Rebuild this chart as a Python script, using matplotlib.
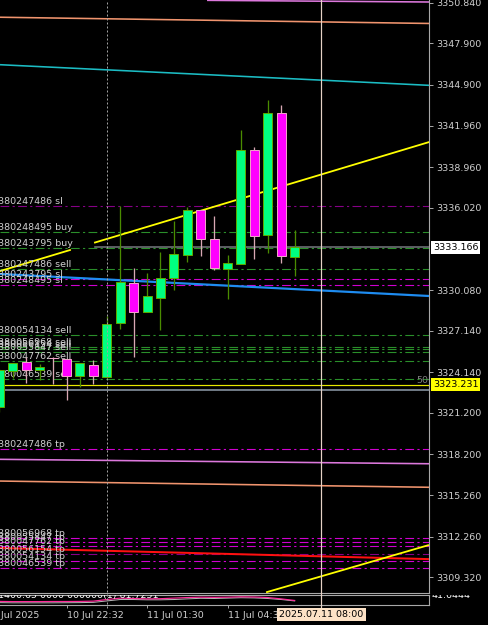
import matplotlib
matplotlib.use('Agg')
import matplotlib.pyplot as plt
from matplotlib.lines import Line2D
from matplotlib.transforms import blended_transform_factory as btf

plt.rcParams['font.family'] = ['DejaVu Sans']
plt.rcParams['font.size'] = 6.8

# ---------------- data ----------------
bar_idx = list(range(23))
opens  = [3321.62, 3324.23, 3324.88, 3324.29, 3325.19, 3325.13, 3323.85, 3324.65,
          3323.80, 3327.68, 3330.56, 3328.47, 3329.50, 3330.92, 3332.60, 3335.83,
          3333.79, 3331.62, 3331.93, 3340.21, 3334.08, 3342.85, 3332.49]
highs  = [3324.40, 3324.81, 3325.24, 3324.72, 3325.24, 3325.13, 3324.81, 3325.06,
          3328.18, 3336.14, 3331.64, 3331.31, 3332.80, 3335.04, 3336.07, 3335.83,
          3335.45, 3332.58, 3341.67, 3340.40, 3343.84, 3343.43, 3334.39]
lows   = [3321.30, 3323.71, 3323.37, 3323.56, 3323.27, 3322.12, 3323.08, 3323.27,
          3323.70, 3327.27, 3325.22, 3328.47, 3327.17, 3330.06, 3332.10, 3332.53,
          3331.50, 3329.46, 3331.93, 3332.29, 3332.78, 3332.03, 3331.09]
closes = [3324.29, 3324.81, 3324.29, 3324.52, 3325.15, 3323.85, 3324.81, 3323.85,
          3327.60, 3330.63, 3328.47, 3329.62, 3330.94, 3332.65, 3335.85, 3333.76,
          3331.64, 3332.03, 3340.21, 3334.00, 3342.88, 3332.56, 3333.166]

price_ticks = [3350.840, 3347.900, 3344.900, 3341.960, 3338.960, 3336.020, 3330.080,
               3327.140, 3324.140, 3321.200, 3318.200, 3315.260, 3312.260, 3309.320]

time_ticks = [-1, 5, 11, 17]
time_labels = ['10 Jul 2025', '10 Jul 22:32', '11 Jul 01:30', '11 Jul 04:30']
cursor_bar = 24
cursor_label = '2025.07.11 08:00'
separator_bar = 8

bid_price = 3333.166
yellow_level = 3323.231
yellow_level_text = '50'
gray_level = 3322.86

order_labels = ['380247486 sl', '380248495 buy', '380243795 buy', '380247486 sell',
                '380243795 sl', '380248495 sl', '380054134 sell', '380056968 sell',
                '380056154 sell', '380055847 sell', '380047762 sell', '380046539 sell',
                '380247486 tp', '380056968 tp', '380055847 tp', '380047762 tp',
                '380056154 tp', '380054134 tp', '380046539 tp']
order_prices = [3336.17, 3334.25, 3333.09, 3331.62, 3330.85, 3330.42, 3326.83, 3325.94,
                3325.80, 3325.62, 3324.95, 3323.67, 3318.57, 3312.18, 3311.91, 3311.58,
                3310.98, 3310.52, 3309.97]

# channel / trend lines: (start bar, start price, end bar, end price)
orchid_top   = (15.47, 3351.01, 32.01, 3350.89)
salmon_top   = (0.045, 3349.79, 32.01, 3349.34)
cyan_line    = (0.045, 3346.36, 32.01, 3344.87)
blue_line    = (0.045, 3331.24, 32.01, 3329.65)
orchid_mid   = (0.045, 3317.85, 32.01, 3317.53)
salmon_mid   = (0.045, 3316.28, 32.01, 3315.83)
red_line     = (0.045, 3311.44, 32.01, 3310.64)
yellow_up    = (0.045, 3331.45, 32.01, 3340.77)
yellow_gap   = (5.26, 7.12)
yellow_low   = (19.87, 3308.24, 32.01, 3311.66)

# indicator sub-window
ind_pink = [35, 33, 33, 33, 34, 34, 35, 38, 55, 70, 66, 62, 64, 70, 76, 80, 78, 80, 84, 82, 76, 62, 45]
ind_gray = [22, 20, 20, 20, 20, 21, 22, 25, 40, 55, 55, 52, 52, 55, 62, 68, 66, 70, 74, 72, 66, 55, 40]
ind_text = '1400.65 0000 000000(1) 61.7251'
ind_right = '41.6444'

# ---------------- layout ----------------
W, H = 489, 625
fig = plt.figure(figsize=(W / 100, H / 100), dpi=100, facecolor='black')
plot_r = 429
main_bot = 593.3
ax = fig.add_axes([0, (H - main_bot) / H, plot_r / W, main_bot / H])
ax.set_facecolor('black')
ax.set_xlim(0.0447, 32.01)
ax.set_ylim(3308.17, 3351.035)

ind_top, ind_bot = 595.3, 604.7
ax2 = fig.add_axes([0, (H - ind_bot) / H, plot_r / W, (ind_bot - ind_top) / H])
ax2.set_facecolor('black')
ax2.set_xlim(0.0447, 32.01)
ax2.set_ylim(0, 100)

frame = '#a8a8a8'
for a in (ax, ax2):
    for s in ('left', 'top'):
        a.spines[s].set_visible(False)
    for s in ('right', 'bottom'):
        a.spines[s].set_color(frame)
        a.spines[s].set_linewidth(0.8)
ax2.spines['top'].set_visible(True)
ax2.spines['top'].set_color(frame)
ax2.spines['top'].set_linewidth(0.8)

ax.set_xticks([])
ax.yaxis.tick_right()
ax.set_yticks(price_ticks)
ax.set_yticklabels([f'{v:.3f}' for v in price_ticks])
ax.tick_params(axis='y', colors=frame, labelcolor='#d0d0d0', length=3, width=0.7,
               pad=2.5, labelsize=6.8)
ax2.set_yticks([])
ax2.set_xticks(time_ticks[1:])
ax2.set_xticklabels([])
ax2.tick_params(axis='x', colors=frame, length=2.5, width=0.7)

px = 0.72  # one pixel in points

# ---------------- horizontal order lines ----------------
green_c = '#2a8f2a'
mag_c = '#d000d0'
dark_c = '#860086'
dashpat = (0, (8, 3, 2, 3))
for k, (lab, pr) in enumerate(zip(order_labels, order_prices)):
    if lab.endswith('buy') or lab.endswith('sell'):
        c = green_c
    elif k in (0, 16):
        c = dark_c
    else:
        c = mag_c
    ax.axhline(pr, color=c, lw=px * 1.1, linestyle=dashpat, zorder=2)
    ax.text(-0.12, pr, lab, color='#d0d0d0', ha='left', va='bottom',
            fontsize=6.8, zorder=6, clip_on=False)

# ---------------- channel lines ----------------
def seg(line, color, lw, z=3):
    ax.plot([line[0], line[2]], [line[1], line[3]], color=color, lw=lw * px,
            solid_capstyle='butt', zorder=z)

seg(orchid_top, '#dc78dc', 1.6)
seg(salmon_top, '#f0946e', 1.6)
seg(cyan_line, '#1cbcc4', 1.6)
seg(blue_line, '#1e8cf0', 2.2)
seg(orchid_mid, '#dc78dc', 1.6)
seg(salmon_mid, '#f0946e', 1.6)
seg(red_line, '#ff1010', 2.0)
seg(yellow_low, '#ffff00', 1.8)

# upper yellow trend line drawn in two parts (gap)
def yval(line, x):
    return line[1] + (line[3] - line[1]) * (x - line[0]) / (line[2] - line[0])

for xa, xb in ((yellow_up[0], yellow_gap[0]), (yellow_gap[1], yellow_up[2])):
    ax.plot([xa, xb], [yval(yellow_up, xa), yval(yellow_up, xb)], color='#ffff00',
            lw=1.8 * px, zorder=4)

# level lines
ax.plot([yellow_gap[1], 32.01], [bid_price, bid_price], color='#707478', lw=1.6 * px, zorder=2.5)
ax.axhline(yellow_level, color='#e8e800', lw=1.2 * px, zorder=2.5)
ax.axhline(gray_level, color='#8a96a4', lw=1.6 * px, zorder=2.5)
ax.text(31.94, yellow_level, yellow_level_text, color='#808080', ha='right',
        va='bottom', fontsize=6.8, zorder=6)

# ---------------- candles ----------------
bw = 0.67
for i, o, h, l, c in zip(bar_idx, opens, highs, lows, closes):
    bull = c >= o
    wick_c = '#4a8c00' if bull else '#d8a8b4'
    body_c = '#00ff80' if bull else '#ff00ff'
    edge_c = '#5aa800' if bull else '#f0a0c8'
    ax.vlines(i, l, h, color=wick_c, lw=1.3 * px, zorder=7)
    lo, hi = min(o, c), max(o, c)
    ax.bar(i, hi - lo, bottom=lo, width=bw, color=body_c, edgecolor=edge_c,
           linewidth=1.0 * px, zorder=8)

# ---------------- indicator ----------------
ax2.plot(bar_idx, ind_gray, color='#b8b8b8', lw=1.0 * px, zorder=3)
ax2.plot(bar_idx, ind_pink, color='#ff2a9a', lw=1.2 * px, zorder=4)
ax2.text(-0.1, 96, ind_text, color='white', ha='left', va='center', fontsize=6.8,
         clip_on=True, zorder=5)
ax3 = fig.add_axes([(plot_r + 3) / W, (H - ind_bot) / H, 55 / W, (ind_bot - ind_top) / H])
ax3.set_axis_off()
ax3.text(0.0, 0.95, ind_right, color='white', ha='left', va='center', fontsize=6.8,
         clip_on=True, transform=ax3.transAxes)

# ---------------- vertical lines ----------------
tfx = btf(ax.transData, fig.transFigure)
y_end = (H - 608) / H
fig.add_artist(Line2D([separator_bar, separator_bar], [y_end, 1.0], transform=tfx,
                      color='#a0a0a0', lw=1.0 * px, linestyle=(0, (2, 2)), zorder=1))
fig.add_artist(Line2D([cursor_bar, cursor_bar], [y_end, 1.0], transform=tfx,
                      color='#e6d2c6', lw=1.2 * px, zorder=1))

# ---------------- time labels ----------------
ty = (H - 615) / H
for t, lab in zip(time_ticks, time_labels):
    fig.text(t, ty, lab, transform=tfx, color='#d0d0d0', ha='left', va='center',
             fontsize=6.8)
fig.text(cursor_bar, (H - 614.2) / H, cursor_label, transform=tfx, color='black',
         ha='center', va='center', fontsize=6.8,
         bbox=dict(boxstyle='square,pad=0.22', fc='#fde2c6', ec='none'))

# ---------------- price boxes ----------------
tfy = btf(fig.transFigure, ax.transData)
fig.text(433 / W, bid_price, f'{bid_price:.3f}', transform=tfy, color='black',
         ha='left', va='center', fontsize=6.8,
         bbox=dict(boxstyle='square,pad=0.2', fc='white', ec='none'))
fig.text(433 / W, yellow_level, f'{yellow_level:.3f}', transform=tfy, color='black',
         ha='left', va='center', fontsize=6.8,
         bbox=dict(boxstyle='square,pad=0.2', fc='#ffff00', ec='none'))

fig.savefig('out.png', dpi=100, facecolor='black')
